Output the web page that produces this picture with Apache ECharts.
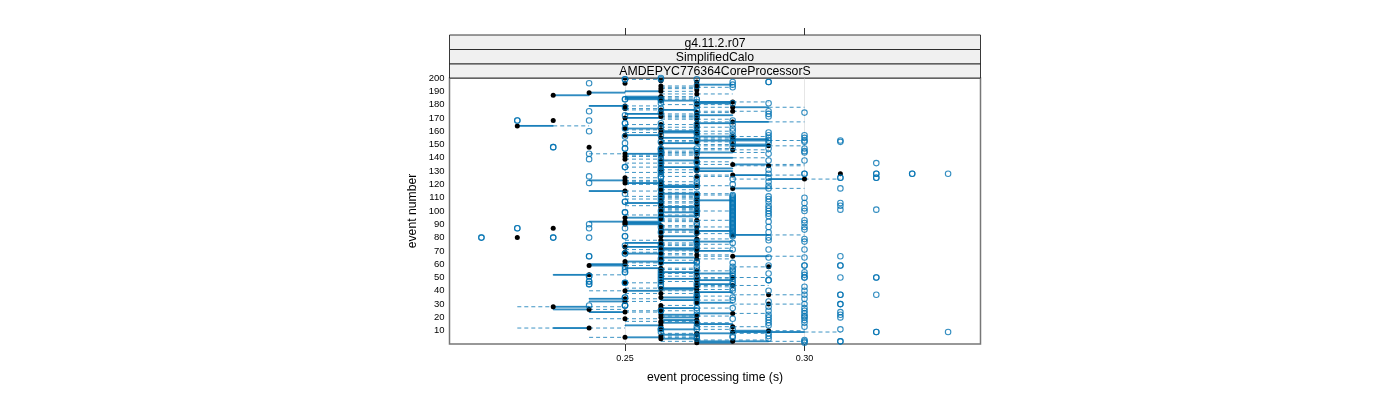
<!DOCTYPE html>
<html><head><meta charset="utf-8">
<script src="https://cdn.jsdelivr.net/npm/echarts@6/dist/echarts.min.js"></script>
<style>html,body{margin:0;padding:0;background:#fff}#c{width:1400px;height:400px}</style></head>
<body><div id="c"></div>
<script>
// all values are in hundredths of a second, listed for events 1..200
const medians=[27,28,27,26,25,26,27,27,28,29, 26,24,28,26,27,26,26,27,25,26, 27,26,28,25,26,24,26,23,26,29, 27,25,27,25,26,27,29,26,27,25,
27,26,27,28,27,25,26,27,27,28, 26,24,27,26,27,26,26,29,24,25, 26,25,26,27,26,28,27,26,25,27, 26,27,25,26,27,26,27,26,27,22,
26,28,27,26,27,26,23,27,26,25, 25,25,27,26,25,26,26,27,26,27, 26,27,26,26,27,26,26,27,26,27, 26,27,26,26,25,26,28,26,27,26,
25,26,25,30,25,27,28,31,26,27, 26,27,26,29,28,26,27,26,25,27, 25,26,25,27,26,28,26,24,29,28, 26,27,27,28,26,28,25,27,26,27,
26,25,27,22,26,27,28,23,27,25, 26,27,26,27,28,26,25,28,25,27, 27,28,26,26,26,26,23,27,24,26, 27,26,27,26,27,25,27,26,26,25];
const q1=[27,27,27,26,25,26,26,27,28,28, 26,23,28,25,27,26,26,26,25,26, 27,26,27,24,26,23,26,23,26,29, 27,24,26,24,26,27,29,26,27,25,
26,26,27,28,27,25,26,27,26,28, 26,23,27,26,27,26,25,29,24,24, 26,25,26,27,26,28,27,25,25,27, 26,26,25,26,27,25,27,26,27,22,
26,28,27,26,27,26,23,27,26,25, 25,24,27,26,25,26,26,27,26,27, 26,27,26,26,27,25,26,27,26,27, 26,27,26,26,24,26,28,26,26,26,
25,26,24,29,25,27,28,31,26,27, 26,27,26,29,28,26,27,26,25,27, 25,26,25,27,26,28,26,24,28,28, 26,27,27,28,26,27,25,27,26,26,
26,25,27,22,26,27,28,23,27,25, 26,27,25,27,28,26,25,28,24,27, 27,27,26,25,25,25,23,27,24,25, 27,26,27,26,27,25,27,26,26,25];
const q3=[28,29,27,27,26,26,27,28,30,29, 27,24,28,26,28,27,26,27,25,27, 27,27,28,25,26,24,27,24,26,29, 28,25,27,25,27,27,29,26,28,26,
27,27,27,28,28,25,26,28,27,28, 26,24,28,27,27,26,26,29,25,25, 27,26,26,27,27,29,27,26,25,28, 27,27,26,26,27,26,28,27,27,22,
27,29,27,26,28,27,23,27,26,26, 26,26,27,26,26,27,26,27,27,27, 26,27,27,26,27,26,26,28,26,27, 26,27,27,26,25,26,29,27,27,26,
26,26,25,30,25,27,29,31,26,28, 26,28,27,29,29,26,27,27,25,28, 25,26,26,28,26,28,27,24,29,29, 27,27,29,29,27,28,26,27,27,27,
26,26,27,23,26,28,29,23,27,26, 26,28,26,27,28,27,25,29,25,27, 28,28,27,26,26,26,24,27,25,26, 27,26,27,26,28,25,27,26,26,25];
const whiskerLow=[27,26,27,26,24,26,26,26,28,28, 26,22,27,25,27,26,25,26,24,26, 26,26,27,24,25,23,26,22,26,28, 27,24,26,24,26,27,28,25,27,24,
26,25,27,27,27,25,26,27,26,27, 26,23,26,26,27,26,25,28,24,24, 25,25,26,27,26,27,26,25,25,26, 25,26,25,26,26,25,27,25,27,22,
26,28,27,26,26,26,23,26,26,25, 25,24,26,26,25,26,25,27,26,26, 26,26,26,25,27,25,26,27,25,26, 25,26,26,26,24,26,28,26,26,25,
25,25,24,28,25,26,27,31,25,27, 26,27,25,28,27,25,27,26,25,27, 25,25,24,26,26,27,26,24,27,27, 26,26,26,27,26,27,25,27,25,26,
25,25,26,22,25,27,27,23,26,25, 26,26,25,27,27,25,25,27,24,26, 27,27,26,25,25,25,23,26,24,25, 27,26,26,26,27,25,27,26,25,25];
const whiskerHigh=[28,30,29,27,27,27,27,29,31,30, 28,25,29,26,28,28,27,27,26,27, 28,27,29,26,27,25,28,25,27,30, 28,26,28,26,27,28,30,27,28,27,
28,27,28,29,28,26,27,28,28,29, 27,25,28,27,28,27,27,29,26,25, 27,26,27,28,27,30,28,27,26,28, 27,28,26,27,28,27,28,27,28,22,
27,30,28,27,28,27,23,28,27,26, 26,27,28,27,26,27,27,27,27,28, 27,27,27,27,27,27,27,28,27,27, 27,28,28,27,26,27,30,27,28,27,
26,27,26,31,26,28,30,31,27,28, 27,28,27,30,30,27,28,27,26,29, 26,27,27,29,27,29,28,24,30,29, 27,28,30,29,28,29,26,28,27,28,
27,26,28,24,27,28,30,23,28,27, 27,28,27,28,29,27,26,30,26,28, 28,29,27,27,27,27,24,28,25,27, 27,27,28,27,28,25,27,26,26,25];
// outliers: event numbers at each measured value (repeats overplot and look darker)
const outliersAt21=[80,80];
const outliersAt22=[168,168,87,87];
const outliersAt23=[148,148,80,80];
const outliersAt24=[196,175,168,160,143,139,126,121,90,87,80,66,66,51,51,47,47,45,45,29];
const outliersAt25=[199,199,184,184,178,172,166,166,162,156,151,147,147,133,133,113,107,107,99,99,87,81,81,74,68,68,58,56,54,54,46,46,35,35,29,29,29];
const outliersAt26=[200,199,184,183,181,177,174,166,163,157,152,147,146,144,142,139,137,135,133,131,130,128,126,125,122,120,116,112,110,108,105,100,97,94,88,84,75,72,68,64,61,55,53,51,49,47,45,43,25,25,11,11,9];
const outliersAt27=[199,194,184,182,179,176,172,170,165,163,160,158,155,152,147,145,143,137,136,132,131,125,122,120,118,113,112,109,107,104,101,99,97,91,89,84,77,76,74,71,62,61,58,56,52,50,46,44,38,36,35,31,27,25,22,16,13,11,6,5,4];
const outliersAt28=[197,195,193,181,168,165,162,160,157,155,152,151,148,124,120,112,111,110,109,108,107,106,105,104,103,102,101,100,99,98,97,96,95,94,93,92,91,90,89,88,87,86,85,84,83,82,81,76,71,61,58,56,55,53,51,49,47,45,42,40,35,33,27,19,11,6,5];
const outliersAt29=[197,197,181,175,173,171,159,157,155,153,151,147,143,138,131,128,125,122,119,117,111,109,107,104,102,100,98,96,92,88,84,80,78,71,65,59,53,48,48,40,32,28,25,22,20,18,16,14,8,6,4];
const outliersAt30=[174,157,155,153,147,144,152,145,138,128,128,110,106,102,100,93,91,88,86,79,77,71,65,59,59,54,52,50,50,43,40,37,34,30,27,25,23,21,20,18,16,13,3,2,1];
const outliersAt31=[153,152,125,125,117,106,104,101,66,59,59,50,37,37,30,30,24,22,20,11,2,2];
const outliersAt32=[136,128,128,125,125,101,50,50,37,9,9];
const outliersAt33=[128,128];
const outliersAt34=[128,9];
const stripLabels=["g4.11.2.r07","SimplifiedCalo","AMDEPYC776364CoreProcessorS"];
const xTicks=[0.25,0.30];

const outlierGroups=[[21,outliersAt21],[22,outliersAt22],[23,outliersAt23],[24,outliersAt24],[25,outliersAt25],[26,outliersAt26],[27,outliersAt27],[28,outliersAt28],[29,outliersAt29],[30,outliersAt30],[31,outliersAt31],[32,outliersAt32],[33,outliersAt33],[34,outliersAt34]];
const BLUE='#0072B2', FONT='"Liberation Sans",Arial,sans-serif';
const sec=v=>v/100;
const boxes=medians.map((_,i)=>[sec(q1[i]),sec(q3[i]),i+1]);
const whiskers=[];
medians.forEach((_,i)=>{whiskers.push([sec(whiskerLow[i]),sec(q1[i]),i+1]);whiskers.push([sec(q3[i]),sec(whiskerHigh[i]),i+1]);});
const medianPts=medians.map((m,i)=>[sec(m),i+1]);
const outlierPts=[];
outlierGroups.forEach(([v,evs])=>evs.forEach(e=>outlierPts.push([sec(v),e])));

function renderBox(p,api){
  const a=api.coord([api.value(0),api.value(2)]),b=api.coord([api.value(1),api.value(2)]);
  return {type:'rect',shape:{x:a[0],y:a[1]-0.4,width:b[0]-a[0],height:0.8},
    style:{fill:'none',stroke:BLUE,lineWidth:0.9},silent:true};
}
function renderWhisker(p,api){
  const a=api.coord([api.value(0),api.value(2)]),b=api.coord([api.value(1),api.value(2)]);
  return {type:'line',shape:{x1:a[0],y1:a[1],x2:b[0],y2:b[1]},
    style:{stroke:BLUE,lineWidth:0.9,lineDash:[4,3],opacity:0.85},silent:true};
}
const XMIN=0.20111,XMAX=0.34903;
const strips=[];
stripLabels.forEach((t,i)=>{
  const y=[35,49.5,64][i],h=[14.5,14.5,14][i];
  strips.push({type:'rect',shape:{x:449.5,y:y,width:531,height:h},style:{fill:'#f0f0f0',stroke:'#222',lineWidth:0.9},z:5});
  strips.push({type:'text',x:715,y:y+h/2+1,style:{text:t,font:'12.25px '+FONT,fill:'#000',textAlign:'center',textVerticalAlign:'middle'},z:6});
});
const chart=echarts.init(document.getElementById('c'),null,{renderer:'canvas'});
chart.setOption({
  animation:false,backgroundColor:'#fff',
  grid:[
    {left:449.5,top:78,width:531,height:266,show:true,borderColor:'#777',borderWidth:1.5,backgroundColor:'transparent'},
    {left:449.5,top:35,width:531,height:309,show:false}
  ],
  graphic:strips,
  xAxis:[
    {gridIndex:0,type:'value',min:XMIN,max:XMAX,position:'bottom',
     name:'event processing time (s)',nameLocation:'middle',nameGap:27.5,nameTextStyle:{fontSize:12.2,color:'#000',fontFamily:FONT},
     axisLine:{show:false,onZero:false},axisTick:{show:true,length:7,customValues:xTicks,lineStyle:{color:'#333',width:1}},
     axisLabel:{show:true,fontSize:9,color:'#000',fontFamily:FONT,margin:10,customValues:xTicks,formatter:v=>v.toFixed(2)},
     splitLine:{show:true,customValues:xTicks,lineStyle:{color:'#e6e6e6',width:1}}},
    {gridIndex:1,type:'value',min:XMIN,max:XMAX,position:'top',
     axisLine:{show:false,onZero:false},axisTick:{show:true,length:7,customValues:xTicks,lineStyle:{color:'#333',width:1}},
     axisLabel:{show:false},splitLine:{show:false}}
  ],
  yAxis:[
    {gridIndex:0,type:'value',min:0,max:200,interval:10,
     name:'event number',nameLocation:'middle',nameGap:30.5,nameRotate:90,nameTextStyle:{fontSize:12.2,color:'#000',fontFamily:FONT},
     axisLine:{show:false},axisTick:{show:false},splitLine:{show:false},
     axisLabel:{fontSize:9.5,color:'#000',fontFamily:FONT,margin:5,formatter:v=>v===0?'':String(v)}},
    {gridIndex:1,type:'value',min:0,max:200,show:false}
  ],
  series:[
    {type:'custom',name:'whiskers',xAxisIndex:0,yAxisIndex:0,coordinateSystem:'cartesian2d',renderItem:renderWhisker,data:whiskers,encode:{x:[0,1],y:2},z:2,clip:false},
    {type:'custom',name:'boxes',xAxisIndex:0,yAxisIndex:0,coordinateSystem:'cartesian2d',renderItem:renderBox,data:boxes,encode:{x:[0,1],y:2},z:3,clip:false},
    {type:'scatter',name:'medians',xAxisIndex:0,yAxisIndex:0,data:medianPts,symbol:'circle',symbolSize:5,itemStyle:{color:'#000',opacity:1},z:4,silent:true},
    {type:'scatter',name:'outliers',xAxisIndex:0,yAxisIndex:0,data:outlierPts,symbol:'circle',symbolSize:5.5,itemStyle:{color:'rgba(0,0,0,0)',borderColor:BLUE,borderWidth:1.1,opacity:0.8},z:5,silent:true}
  ]
});
</script></body></html>
